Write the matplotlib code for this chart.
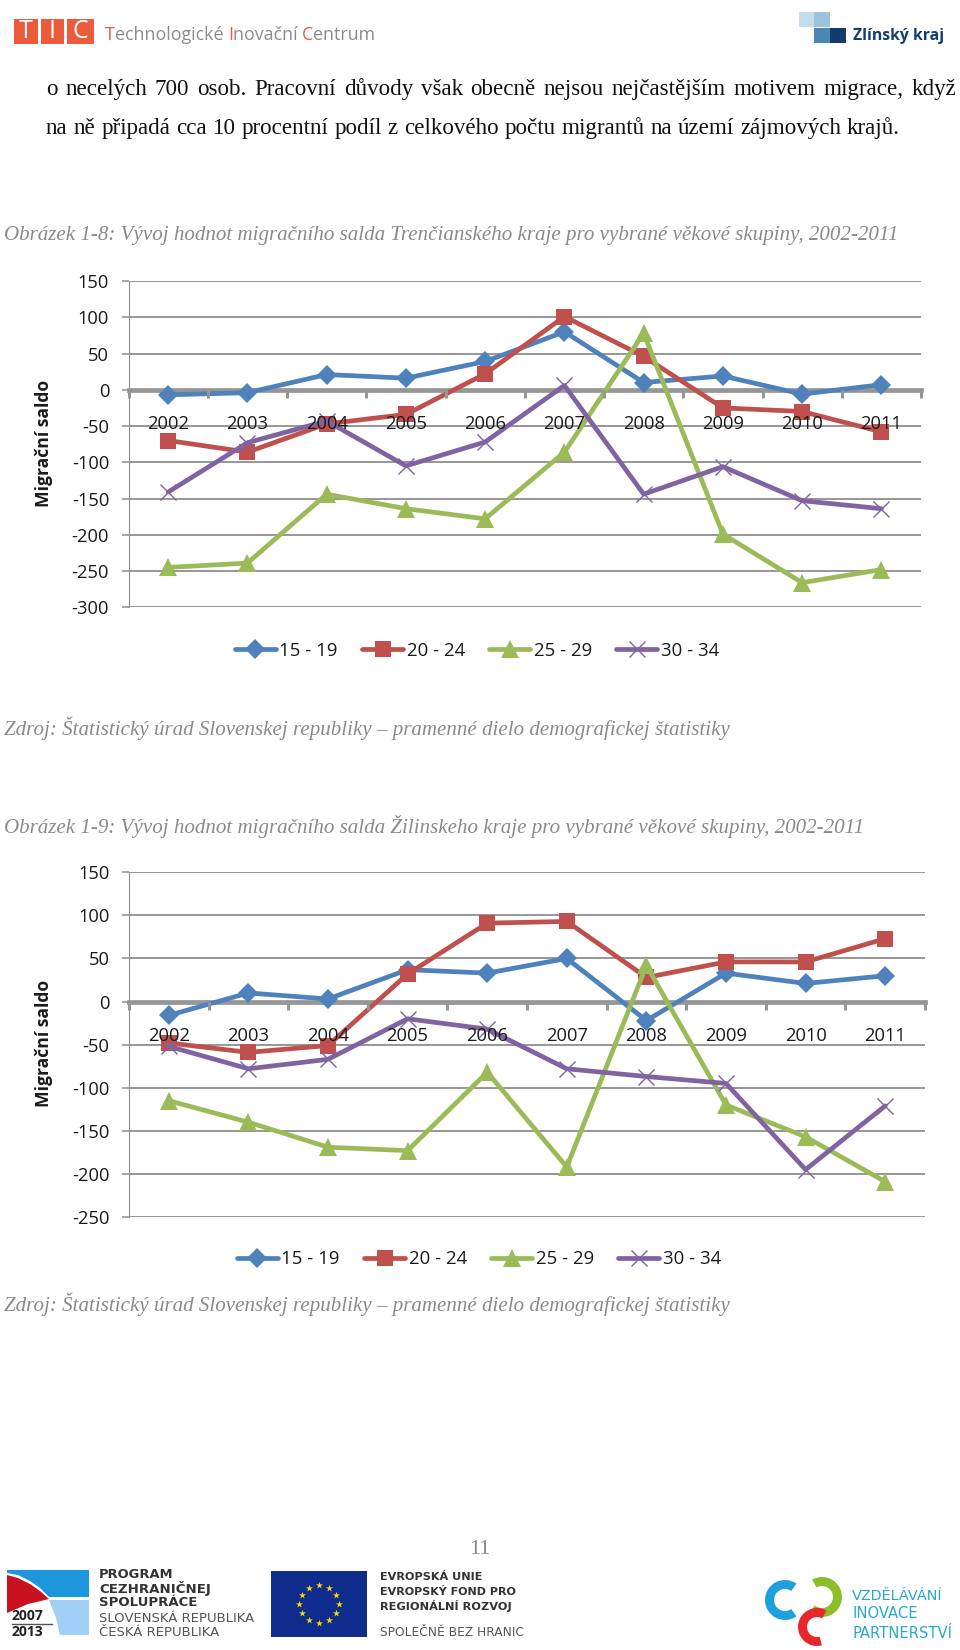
import matplotlib
matplotlib.use("Agg")
import matplotlib.pyplot as plt
from matplotlib.patches import Rectangle, Polygon, Wedge

plt.rcParams['font.family'] = ['Open Sans', 'DejaVu Sans']

W, H = 960, 1650
years = ['2002', '2003', '2004', '2005', '2006', '2007', '2008', '2009', '2010', '2011']
series_names = ['15 - 19', '20 - 24', '25 - 29', '30 - 34']

t_15_19 = [-7, -4, 21, 16, 39, 80, 10, 19, -6, 7]
t_20_24 = [-70, -86, -47, -34, 22, 101, 46, -25, -30, -58]
t_25_29 = [-245, -239, -144, -164, -178, -86, 78, -199, -266, -248]
t_30_34 = [-141, -73, -43, -105, -72, 6, -144, -106, -153, -164]

z_15_19 = [-16, 10, 3, 37, 33, 50, -22, 33, 21, 30]
z_20_24 = [-48, -59, -51, 32, 91, 93, 28, 46, 46, 73]
z_25_29 = [-115, -140, -169, -173, -82, -192, 42, -120, -157, -209]
z_30_34 = [-52, -78, -67, -20, -32, -78, -87, -95, -195, -121]

colors = ['#4F81BD', '#C0504D', '#9BBB59', '#8064A2']
markers = ['D', 's', '^', 'x']
msizes = [10.5, 12, 12.5, 11]
GRID = '#8f8f8f'

fig = plt.figure(figsize=(W / 100, H / 100), dpi=100, facecolor='white')
page = fig.add_axes([0, 0, 1, 1], zorder=0)
page.set_xlim(0, W)
page.set_ylim(H, 0)
page.axis('off')
rend = fig.canvas.get_renderer()


def fit(s, x0, x1, y, **kw):
    t = page.text(x0, y, s, va='center', ha='left', **kw)
    w = t.get_window_extent(rend).width
    t.set_fontsize(t.get_fontsize() * (x1 - x0) / w)
    return t


def justified(s, x0, x1, y, **kw):
    words = s.split()
    ts = [page.text(0, y, w, va='baseline', ha='left', **kw) for w in words]
    ws = [t.get_window_extent(rend).width for t in ts]
    gap = (x1 - x0 - sum(ws)) / (len(words) - 1)
    x = x0
    for t, w in zip(ts, ws):
        t.set_x(x)
        x += w + gap


serif = ['Liberation Serif', 'DejaVu Serif']
justified('o necelých 700 osob. Pracovní důvody však obecně nejsou nejčastějším motivem migrace, když',
          46, 956, 95, family=serif, fontsize=16.6, color='#111111')
justified('na ně připadá cca 10 procentní podíl z celkového počtu migrantů na území zájmových krajů.',
          46, 900, 134, family=serif, fontsize=16.6, color='#111111')

cap = dict(family=serif, style='italic', color='#8a8a8a', fontsize=15)
fit('Obrázek 1-8: Vývoj hodnot migračního salda Trenčianského kraje pro vybrané věkové skupiny, 2002-2011', 4, 901, 235.5, **cap)
fit('Zdroj: Štatistický úrad Slovenskej republiky – pramenné dielo demografickej štatistiky', 4, 730, 728, **cap)
fit('Obrázek 1-9: Vývoj hodnot migračního salda Žilinskeho kraje pro vybrané věkové skupiny, 2002-2011', 4, 865, 826, **cap)
fit('Zdroj: Štatistický úrad Slovenskej republiky – pramenné dielo demografickej štatistiky', 4, 730, 1304, **cap)
page.text(480, 1549, '11', family=serif, color='#8a8a8a', fontsize=16, ha='center', va='center')

# header logos
for x0, x1, c in [(14, 38, '#EB5B3C'), (41, 64, '#EB5B3C'), (67, 94, '#EB5B3C')]:
    page.add_patch(Rectangle((x0, 19), x1 - x0, 25, color=c, lw=0))
for x, s in [(26, 'T'), (52.5, 'I'), (80.5, 'C')]:
    page.text(x, 31, s, color='white', fontsize=18, ha='center', va='center', family=['Open Sans'])
hx = 105
for s, c in [('T', '#EB5B3C'), ('echnologické ', '#8c8c8c'), ('I', '#EB5B3C'), ('novační ', '#8c8c8c'),
             ('C', '#EB5B3C'), ('entrum', '#8c8c8c')]:
    t = page.text(hx, 40, s, color=c, fontsize=12.9, va='baseline', ha='left')
    hx += t.get_window_extent(rend).width
for x, y, c in [(799, 12, '#C3DDEC'), (814, 12, '#9CC3DE'), (814, 28, '#4A86B4'), (830, 28, '#123C6E')]:
    page.add_patch(Rectangle((x, y), 15.5, 15, color=c, lw=0))
fit('Zlínský kraj', 853, 943, 36, color='#123C6E', fontweight='bold', fontsize=13)

# footer logos
page.add_patch(Polygon([(7, 1570), (89, 1570), (89, 1597), (49, 1597), (40, 1588), (30, 1581), (18, 1575), (7, 1573)],
                       color='#1E96DC', lw=0))
page.add_patch(Polygon([(49, 1600), (89, 1600), (89, 1635), (60, 1635), (56, 1618)], color='#A0D0F5', lw=0))
page.add_patch(Polygon([(7, 1575), (18, 1578), (30, 1584), (40, 1591), (49, 1599), (28, 1604), (7, 1613)],
                       color='#C8101E', lw=0))
page.text(12, 1616, '2007', fontsize=10, fontweight='bold', color='#222222', va='center')
page.plot([12, 52], [1624, 1624], color='#555555', lw=1)
page.text(12, 1632, '2013', fontsize=10, fontweight='bold', color='#222222', va='center')
lib = ['DejaVu Sans']
for y, s, x1 in [(1575, 'PROGRAM', 173), (1588, 'CEZHRANIČNEJ', 211), (1603, 'SPOLUPRÁCE', 197)]:
    fit(s, 99, x1, y, fontsize=8, fontweight='bold', color='#333333', family=lib)
for y, s, x1 in [(1618, 'SLOVENSKÁ REPUBLIKA', 256), (1633, 'ČESKÁ REPUBLIKA', 220)]:
    fit(s, 99, x1, y, fontsize=8, color='#555555', family=lib)
page.add_patch(Rectangle((271, 1571), 96, 66, color='#0F2C8C', lw=0))
stars_x = [0, 10, 17, 20, 17, 10, 0, -10, -17, -20, -17, -10]
stars_y = [-19, -16, -9, 0, 9, 16, 19, 16, 9, 0, -9, -16]
page.scatter([319 + a for a in stars_x], [1604 + b for b in stars_y], marker='*', s=28, color='#F5D90A', lw=0)
for y, s, x1 in [(1577, 'EVROPSKÁ UNIE', 482), (1592, 'EVROPSKÝ FOND PRO', 516), (1606, 'REGIONÁLNÍ ROZVOJ', 511)]:
    fit(s, 380, x1, y, fontsize=8, fontweight='bold', color='#333333', family=lib)
fit('SPOLEČNĚ BEZ HRANIC', 380, 525, 1633, fontsize=8, color='#555555', family=lib)
page.add_patch(Wedge((785, 1600), 20, 55, 305, width=9, color='#1EA0DC', lw=0))
page.add_patch(Wedge((822, 1597), 20, 240, 130, width=9, color='#8CBE28', lw=0))
page.add_patch(Wedge((817, 1627), 19, 75, 300, width=9, color='#E6282D', lw=0))
for y, s, x1 in [(1596, 'VZDĚLÁVÁNÍ', 943), (1614, 'INOVACE', 917), (1633, 'PARTNERSTVÍ', 952)]:
    fit(s, 852, x1, y, fontsize=9, color='#29A9C9', family=lib)


def chart(x0, x1, ytop, ybot, ymin, ymax, yt, data, ylab_y, legend_dx, legend_dy):
    ax = fig.add_axes([x0 / W, 1 - ybot / H, (x1 - x0) / W, (ybot - ytop) / H], zorder=2)
    ax.patch.set_alpha(0)
    ax.set_xlim(0, 10)
    ax.set_ylim(ymin, ymax)
    for s in ['top', 'right']:
        ax.spines[s].set_visible(False)
    ax.spines['left'].set_color(GRID)
    ax.spines['left'].set_linewidth(0.8)
    ax.spines['bottom'].set_position(('data', 0))
    ax.spines['bottom'].set_color('#969696')
    ax.spines['bottom'].set_linewidth(3.4)
    ax.set_yticks(yt)
    ax.set_yticklabels([str(v) for v in yt], fontsize=13.2, color='#1a1a1a')
    ax.tick_params(axis='y', length=5, width=1.1, color=GRID, pad=9)
    ax.grid(axis='y', color=GRID, lw=1.3)
    ax.set_axisbelow(True)
    ax.xaxis.set_zorder(5)
    ax.set_xticks(range(11))
    ax.set_xticklabels([])
    ax.set_xticks([i + 0.5 for i in range(10)], minor=True)
    ax.set_xticklabels(years, minor=True, fontsize=13.2, color='#1a1a1a')
    ax.tick_params(axis='x', which='major', length=6, width=2.2, color='#969696')
    ax.tick_params(axis='x', which='minor', length=0, pad=18)
    xs = [i + 0.5 for i in range(10)]
    for vals, name, c, m, ms in zip(data, series_names, colors, markers, msizes):
        ax.plot(xs, vals, color=c, lw=3.4, marker=m, ms=ms, mew=1.0 if m == 'x' else 0,
                label=name, clip_on=False, zorder=3, solid_capstyle='round')
    fig.text(44 / W, 1 - ylab_y / H, 'Migrační saldo', rotation=90, ha='center', va='center',
             fontsize=12.6, fontweight='bold', color='#1a1a1a')
    ax.legend(loc='center', bbox_to_anchor=((477 + legend_dx - x0) / (x1 - x0),
              -legend_dy / (ybot - ytop)),
              ncol=4, frameon=False, fontsize=13.4, handlelength=2.2, handletextpad=0.2,
              columnspacing=1.3, borderpad=0, labelcolor='#1a1a1a')
    return ax


chart(128.6, 921, 281, 607.3, -300, 150, list(range(-300, 151, 50)),
      [t_15_19, t_20_24, t_25_29, t_30_34], 443, 0, 43.5)
chart(129, 925, 872.3, 1217, -250, 150, list(range(-250, 151, 50)),
      [z_15_19, z_20_24, z_25_29, z_30_34], 1043, 2, 42.5)

fig.savefig('out.png', dpi=100, facecolor='white')
